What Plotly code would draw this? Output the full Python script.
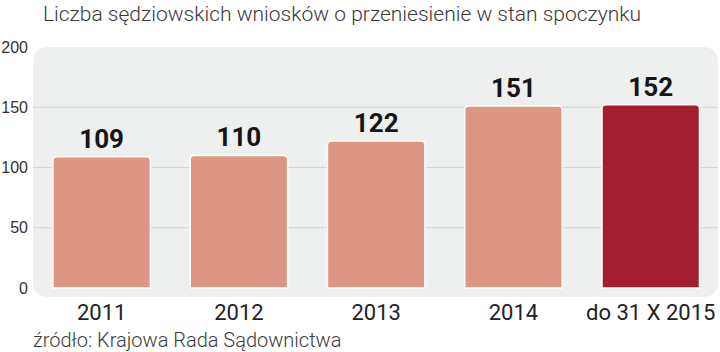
import plotly.graph_objects as go

categories = ["2011", "2012", "2013", "2014", "do 31 X 2015"]
values = [109, 110, 122, 151, 152]
bar_colors = ["#dc9683", "#dc9683", "#dc9683", "#dc9683", "#a31c30"]
y_tickvals = [0, 50, 100, 150, 200]
grid_vals = [50, 100, 150]
title_text = "Liczba sędziowskich wniosków o przeniesienie w stan spoczynku"
source_text = "źródło: Krajowa Rada Sądownictwa"

W, H = 720, 352
ml, mr, mt, mb = 33, 2, 47, 55
pw, ph = W - ml - mr, H - mt - mb

fig = go.Figure()
fig.add_trace(go.Bar(
    x=categories, y=values,
    width=0.71,
    marker=dict(color=bar_colors, line=dict(color="#ffffff", width=1.5), cornerradius=4),
    text=[str(v) for v in values],
    textposition="outside",
    textfont=dict(family="Roboto, sans-serif", size=26, color="#151515", weight="bold"),
    cliponaxis=False,
    hoverinfo="skip",
))

# rounded background panel (paper coords)
r = 16
rx, ry = r / pw, r / ph
path = (f"M {rx},0 L {1-rx},0 Q 1,0 1,{ry} L 1,{1-ry} Q 1,1 {1-rx},1 "
        f"L {rx},1 Q 0,1 0,{1-ry} L 0,{ry} Q 0,0 {rx},0 Z")
shapes = [dict(type="path", path=path, xref="paper", yref="paper",
               fillcolor="#eeefef", line=dict(width=0), layer="below")]
for g in grid_vals:
    shapes.append(dict(type="line", xref="paper", x0=0, x1=1, yref="y", y0=g, y1=g,
                       line=dict(color="#d3d5d5", width=1), layer="below"))

fig.update_layout(
    width=W, height=H,
    margin=dict(l=ml, r=mr, t=mt, b=mb),
    paper_bgcolor="#ffffff", plot_bgcolor="rgba(0,0,0,0)",
    showlegend=False,
    shapes=shapes,
    title=dict(text=title_text, x=43 / W, xanchor="left", y=1 - 14 / H, yanchor="middle",
               xref="container", yref="container",
               font=dict(family="Roboto, sans-serif", size=21, color="#3a3a3a", weight=300)),
    xaxis=dict(range=[-0.5, 4.49], showgrid=False, zeroline=False, showline=False, ticks="",
               tickfont=dict(family="Roboto, sans-serif", size=22, color="#222222")),
    yaxis=dict(range=[-7.5, 200], tickvals=y_tickvals, showgrid=False, zeroline=False, showline=False,
               ticks="", ticklabelstandoff=4,
               tickfont=dict(family="Liberation Sans, Arial, sans-serif", size=16, color="#333333")),
    annotations=[dict(text=source_text, xref="paper", yref="paper", x=(31 - ml) / pw, y=(mt + ph - 340) / ph,
                      xanchor="left", yanchor="middle", showarrow=False,
                      font=dict(family="Roboto, sans-serif", size=20, color="#3a3a3a", weight=300))],
)

fig.write_html("out.html")
